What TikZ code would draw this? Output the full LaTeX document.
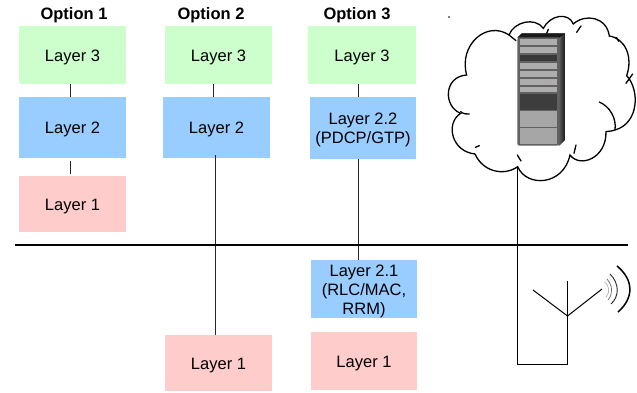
\documentclass[tikz,border=0pt]{standalone}
\usepackage{fontspec}
\setmainfont{Liberation Sans}
\tikzset{
  lay/.style={draw=none,inner sep=0pt,align=center,font=\fontsize{16.5}{19}\selectfont},
  green/.style={lay,fill=layG},
  blue/.style={lay,fill=layB},
  pink/.style={lay,fill=layP},
  head/.style={inner sep=0pt,font=\bfseries\fontsize{16.5}{19}\selectfont},
  conn/.style={draw=black!85,line width=0.8pt},
  cloudline/.style={draw=black,line width=1.3pt,line cap=round},
  wire/.style={draw=black,line width=1pt},
}
\definecolor{layG}{HTML}{CCFFCC}
\definecolor{layB}{HTML}{99CCFF}
\definecolor{layP}{HTML}{FFCCCC}
\begin{document}
\begin{tikzpicture}[x=1pt,y=-1pt]
\useasboundingbox (0,0) rectangle (637,392);
\fill[white] (0,0) rectangle (637,392);
% boxes
\newcommand{\laybox}[7]{\node[#1,minimum width=#5-#3,minimum height=#6-#4] (#2) at ({(#3+#5)/2},{(#4+#6)/2}) {\rule{0pt}{16pt}#7};}
\laybox{green}{aT}{19}{26}{126}{84}{Layer 3}
\laybox{blue}{aM}{19}{97}{126}{158}{Layer 2}
\laybox{pink}{aB}{19}{176}{126}{232}{Layer 1}
\laybox{green}{bT}{165}{26}{272}{84}{Layer 3}
\laybox{blue}{bM}{163}{97}{270}{158}{Layer 2}
\laybox{pink}{bB}{165}{335}{272}{391}{Layer 1}
\laybox{green}{cT}{308}{26}{416}{84}{Layer 3}
\laybox{blue}{cM}{310}{97}{416}{159}{Layer 2.2\\(PDCP/GTP)}
\laybox{blue}{cL}{311}{260}{417}{318}{Layer 2.1\\(RLC/MAC,\\RRM)}
\laybox{pink}{cB}{311}{332}{417}{390}{Layer 1}
\node[head] (h1) at (74,15.5) {Option 1};
\node[head] (h2) at (211,15.5) {Option 2};
\node[head] (h3) at (357,15.5) {Option 3};
% connectors
\draw[conn] ([xshift=-2.5pt]aT.south) -- ([xshift=-2.5pt]aM.north);
\draw[conn,shorten <=3pt,shorten >=2pt] ([xshift=-2.5pt]aM.south) -- ([xshift=-2.5pt]aB.north);
\draw[conn] ([xshift=-5.5pt]bT.south) -- ([xshift=-3.5pt]bM.north);
\draw[conn,shorten <=-3pt] ([xshift=-1.5pt]bM.south) -- ([xshift=-3.5pt]bB.north);
\draw[conn] ([xshift=-4pt]cT.south) -- ([xshift=-5pt]cM.north);
\draw[conn] ([xshift=-5pt]cM.south) -- ([xshift=-6pt]cL.north);
% divider
\coordinate (divL) at (15,245);
\coordinate (divR) at (628,245);
\draw[line width=2.8pt] (divL) -- (divR);
% stray dot
\fill (449,17) circle (0.9);
% cloud (coordinates read from a 3x crop)
\begin{scope}[shift={(440,0)},x=0.3333pt,y=-0.3333pt]
\draw[cloudline]
 (207,105) .. controls (222,65) and (285,50) .. (310,85)
 .. controls (330,45) and (385,35) .. (400,72)
 .. controls (435,40) and (500,50) .. (508,108)
 .. controls (555,115) and (580,170) .. (560,227)
 .. controls (600,270) and (597,370) .. (525,390)
 .. controls (510,395) and (505,393) .. (498,395)
 .. controls (500,475) and (420,505) .. (390,465)
 .. controls (370,558) and (260,563) .. (233,500)
 .. controls (195,528) and (130,518) .. (105,462)
 .. controls (35,455) and (15,370) .. (62,340)
 .. controls (10,320) and (10,230) .. (80,225)
 .. controls (55,135) and (140,60) .. (207,105) -- cycle;
\draw[cloudline] (207,105) -- (228,122);
\draw[cloudline] (325,88) -- (318,105);
\draw[cloudline] (423,78) -- (410,97);
\draw[cloudline] (530,113) -- (536,124);
\draw[cloudline] (578,222) -- (558,250);
\draw[cloudline] (478,306) .. controls (510,320) and (530,355) .. (525,390);
\draw[cloudline] (408,435) -- (402,460);
\draw[cloudline] (232,465) -- (243,483);
\draw[cloudline] (118,437) -- (106,442);
\draw[cloudline] (62,335) .. controls (70,342) and (80,343) .. (88,342);
% rack
\fill[black!75] (232,113) -- (245,100) -- (375,100) -- (375,420) -- (358,437) -- (358,113) -- cycle;
\shade[left color=black!65,right color=black!90] (358,113) -- (375,100) -- (375,420) -- (358,437) -- cycle;
\fill[black!90] (232,113) -- (245,100) -- (375,100) -- (358,113) -- cycle;
\fill[rounded corners=2pt,fill=black!62] (232,113) rectangle (358,437);
\foreach \ya/\yb/\c in {118/136/black!32,141/159/black!32,164/183/black!78,188/206/black!32,212/230/black!32,236/255/black!32,260/277/black!32,283/329/black!76,333/380/black!35,385/432/black!35}
  \fill[\c] (239,\ya) rectangle (350,\yb);
\fill[red!50!black!40] (329,245) circle (3);
\end{scope}
% antenna and link to the cloud
\coordinate (cloudFoot) at (517.5,167);
\coordinate (c1) at (517.5,364);
\coordinate (c2) at (567.5,364);
\coordinate (hub) at (567.5,316);
\coordinate (top) at (567.5,281);
\coordinate (armL) at (533,290);
\coordinate (armR) at (602,289);
\draw[wire] (cloudFoot) -- (c1) -- (c2) -- (hub) -- (top);
\draw[wire] (armL) -- (hub) -- (armR);
% radio waves
\draw[black!35,line width=0.6pt] (604.5,282) .. controls (610,287) and (610,292) .. (606,297);
\draw[black!60,line width=0.7pt] (607,279) .. controls (613,286) and (613,294) .. (608,300);
\draw[black!85,line width=0.9pt] (610,274) .. controls (620,284) and (619,297) .. (611,304);
\draw[black,line width=1.5pt] (617,266) .. controls (634,280) and (634,298) .. (618,312);
\end{tikzpicture}
\end{document}
